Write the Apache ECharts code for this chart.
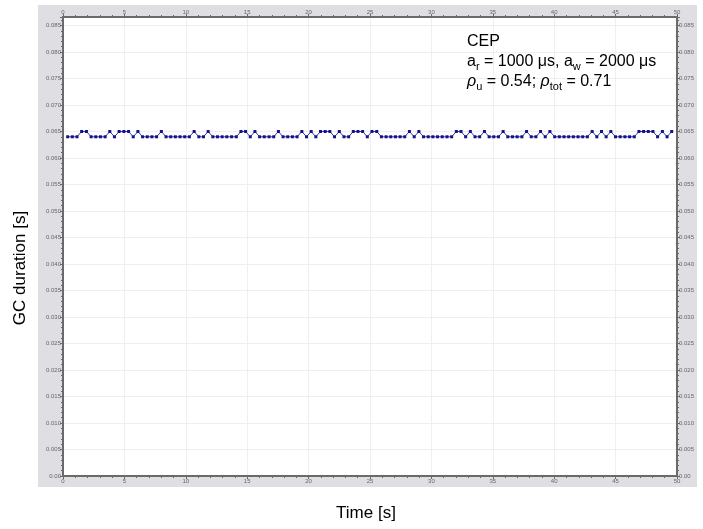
<!DOCTYPE html>
<html>
<head>
<meta charset="UTF-8">
<title>GC duration</title>
<style>
  html, body { margin: 0; padding: 0; background: #fff; }
  #chart { width: 703px; height: 529px; }
</style>
</head>
<body>
<div id="chart"></div>
<script src="https://cdn.jsdelivr.net/npm/echarts@6/dist/echarts.min.js"></script>
<script>
// time of each GC [s]
var gcTimes = [
  0.38, 0.76, 1.14, 1.52, 1.91, 2.29, 2.67, 3.05, 3.43, 3.81,
  4.19, 4.57, 4.96, 5.34, 5.72, 6.10, 6.48, 6.86, 7.24, 7.62,
  8.01, 8.39, 8.77, 9.15, 9.53, 9.91, 10.29, 10.68, 11.06, 11.44,
  11.82, 12.20, 12.58, 12.96, 13.34, 13.73, 14.11, 14.49, 14.87, 15.25,
  15.63, 16.01, 16.39, 16.78, 17.16, 17.54, 17.92, 18.30, 18.68, 19.06,
  19.45, 19.83, 20.21, 20.59, 20.97, 21.35, 21.73, 22.11, 22.50, 22.88,
  23.26, 23.64, 24.02, 24.40, 24.78, 25.16, 25.55, 25.93, 26.31, 26.69,
  27.07, 27.45, 27.83, 28.21, 28.60, 28.98, 29.36, 29.74, 30.12, 30.50,
  30.88, 31.27, 31.65, 32.03, 32.41, 32.79, 33.17, 33.55, 33.93, 34.32,
  34.70, 35.08, 35.46, 35.84, 36.22, 36.60, 36.98, 37.37, 37.75, 38.13,
  38.51, 38.89, 39.27, 39.65, 40.04, 40.42, 40.80, 41.18, 41.56, 41.94,
  42.32, 42.70, 43.09, 43.47, 43.85, 44.23, 44.61, 44.99, 45.37, 45.76,
  46.14, 46.52, 46.90, 47.28, 47.66, 48.04, 48.42, 48.81, 49.19, 49.57
];
// GC duration [s]
var gcDurations = [
  0.064, 0.064, 0.064, 0.065, 0.065, 0.064, 0.064, 0.064, 0.064, 0.065,
  0.064, 0.065, 0.065, 0.065, 0.064, 0.065, 0.064, 0.064, 0.064, 0.064,
  0.065, 0.064, 0.064, 0.064, 0.064, 0.064, 0.064, 0.065, 0.064, 0.064,
  0.065, 0.064, 0.064, 0.064, 0.064, 0.064, 0.064, 0.065, 0.065, 0.064,
  0.065, 0.064, 0.064, 0.064, 0.064, 0.065, 0.064, 0.064, 0.064, 0.064,
  0.065, 0.064, 0.065, 0.064, 0.065, 0.065, 0.065, 0.064, 0.065, 0.064,
  0.064, 0.065, 0.065, 0.065, 0.064, 0.065, 0.065, 0.064, 0.064, 0.064,
  0.064, 0.064, 0.064, 0.065, 0.064, 0.065, 0.064, 0.064, 0.064, 0.064,
  0.064, 0.064, 0.064, 0.065, 0.065, 0.064, 0.065, 0.064, 0.064, 0.065,
  0.064, 0.064, 0.064, 0.065, 0.064, 0.064, 0.064, 0.064, 0.065, 0.064,
  0.064, 0.065, 0.064, 0.065, 0.064, 0.064, 0.064, 0.064, 0.064, 0.064,
  0.064, 0.064, 0.065, 0.064, 0.065, 0.064, 0.065, 0.064, 0.064, 0.064,
  0.064, 0.064, 0.065, 0.065, 0.065, 0.065, 0.064, 0.065, 0.064, 0.065
];
var xTicks = { min: 0, max: 50, interval: 5 };
var yTicks = { min: 0, max: 0.0866, interval: 0.005 };
var xTitle = 'Time [s]';
var yTitle = 'GC duration [s]';

(function initChart() {
    var chart = echarts.init(document.getElementById('chart'));
    var font = '"Liberation Sans", Arial, sans-serif';
    var axisColor = '#6a6a6a';

    function yLabel(v) {
        if (v > 0.0851) return '';
        return v === 0 ? '0.00' : v.toFixed(3);
    }

    var commonX = {
        type: 'value',
        min: xTicks.min,
        max: xTicks.max,
        interval: xTicks.interval,
        axisLine: { show: true, onZero: false, lineStyle: { color: axisColor, width: 2 } },
        axisTick: { show: true, length: 3, lineStyle: { color: axisColor } },
        minorTick: { show: true, splitNumber: 5, length: 2, lineStyle: { color: axisColor } },
        splitLine: { show: true, lineStyle: { color: '#efefef', width: 1 } },
        axisLabel: { fontSize: 6, color: '#666', fontFamily: font, margin: 2 }
    };
    var commonY = {
        type: 'value',
        min: yTicks.min,
        max: yTicks.max,
        interval: yTicks.interval,
        axisLine: { show: true, onZero: false, lineStyle: { color: axisColor, width: 2 } },
        axisTick: { show: true, length: 3, lineStyle: { color: axisColor } },
        minorTick: { show: true, splitNumber: 5, length: 2, lineStyle: { color: axisColor } },
        splitLine: { show: true, lineStyle: { color: '#efefef', width: 1 } },
        axisLabel: { fontSize: 6, color: '#666', fontFamily: font, margin: 2, formatter: yLabel }
    };

    var points = gcTimes.map(function (t, i) { return [t, gcDurations[i]]; });

    var option = {
        backgroundColor: '#fff',
        animation: false,
        grid: {
            left: 63, right: 26, top: 17, bottom: 53,
            show: true, backgroundColor: '#fff', borderWidth: 0
        },
        xAxis: [
            echarts.util.merge({ position: 'bottom' }, commonX, true),
            echarts.util.merge({ position: 'top' }, commonX, true)
        ],
        yAxis: [
            echarts.util.merge({ position: 'left' }, commonY, true),
            echarts.util.merge({ position: 'right' }, commonY, true)
        ],
        graphic: [
            {
                type: 'rect', z: -5, silent: true,
                shape: { x: 38, y: 5, width: 659, height: 482 },
                style: { fill: '#dfdfe3' }
            },
            // axis titles are centred on the figure, not on the plot
            {
                type: 'text', z: 50, x: 366, y: 513, silent: true,
                style: {
                    text: xTitle, font: '17px ' + font, fill: '#000',
                    align: 'center', verticalAlign: 'middle'
                }
            },
            {
                type: 'text', z: 50, x: 20, y: 268, rotation: Math.PI / 2, silent: true,
                style: {
                    text: yTitle, font: '17px ' + font, fill: '#000',
                    align: 'center', verticalAlign: 'middle'
                }
            },
            {
                type: 'text', z: 50, left: 467, top: 32, silent: true,
                style: {
                    text: 'CEP\n{n|a}{s|r}{n| = 1000 μs, a}{s|w}{n| = 2000 μs}\n{r|ρ}{s|u}{n| = 0.54; }{r|ρ}{s|tot}{n| = 0.71}',
                    font: '16px ' + font,
                    fill: '#000',
                    lineHeight: 20,
                    rich: {
                        n: { fontSize: 16, fontFamily: font, lineHeight: 20 },
                        r: { fontSize: 16, fontFamily: font, fontStyle: 'italic', lineHeight: 20 },
                        s: { fontSize: 11, fontFamily: font, verticalAlign: 'bottom', lineHeight: 13 }
                    }
                }
            }
        ],
        series: [{
            name: 'GC',
            type: 'line',
            xAxisIndex: 0,
            yAxisIndex: 0,
            data: points,
            symbol: 'rect',
            symbolSize: 3,
            showSymbol: true,
            lineStyle: { color: '#3b3ba8', width: 1 },
            itemStyle: { color: '#12128a' }
        }]
    };

    chart.setOption(option);
})();
</script>
</body>
</html>
